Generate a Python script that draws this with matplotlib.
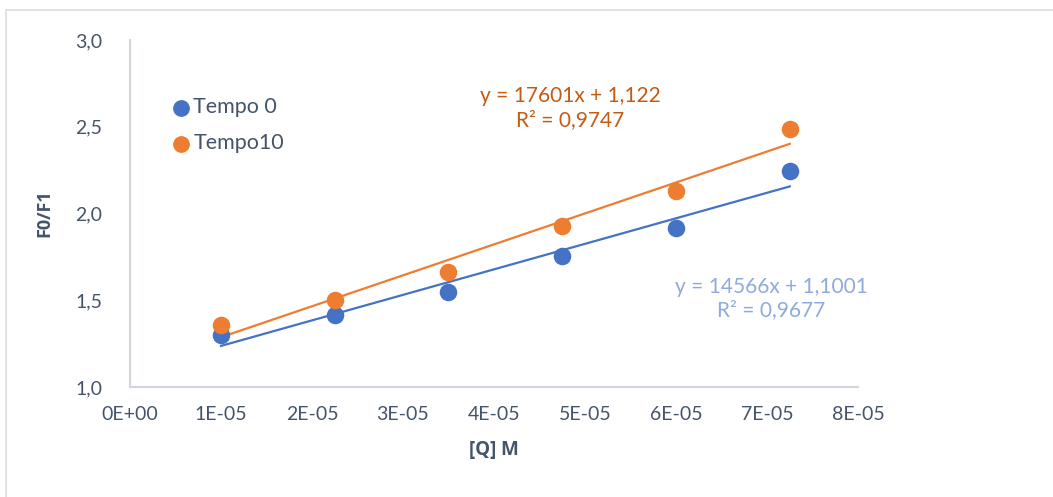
import matplotlib.pyplot as plt
import numpy as np
from matplotlib.patches import Rectangle

# concentrations [Q] (M)
conc = [1.0e-5, 2.25e-5, 3.5e-5, 4.75e-5, 6.0e-5, 7.25e-5]
tempo0 = [1.30, 1.415, 1.548, 1.755, 1.916, 2.245]
tempo10 = [1.357, 1.501, 1.663, 1.928, 2.13, 2.487]

eq0 = "y = 14566x + 1,1001\nR² = 0,9677"
eq10 = "y = 17601x + 1,122\nR² = 0,9747"

xticks = [0, 1e-5, 2e-5, 3e-5, 4e-5, 5e-5, 6e-5, 7e-5, 8e-5]
xticklabels = ["0E+00", "1E-05", "2E-05", "3E-05", "4E-05", "5E-05", "6E-05", "7E-05", "8E-05"]
yticks = [1.0, 1.5, 2.0, 2.5, 3.0]
yticklabels = ["1,0", "1,5", "2,0", "2,5", "3,0"]

blue = '#4472C4'
orange = '#ED7D31'
txt = '#44546A'
spine = '#D0D5DE'

plt.rcParams['font.family'] = ['Lato', 'DejaVu Sans']

fig = plt.figure(figsize=(10.53, 4.97), dpi=100)
# outer chart border
fig.patches.append(Rectangle((6 / 1053, -0.05), 1.2, (497 - 10) / 497 + 0.05,
                             transform=fig.transFigure, fill=False,
                             edgecolor='#D9DEE6', lw=1.2))

ax = fig.add_axes([130 / 1053, 110 / 497, 728 / 1053, 347 / 497])

# trendlines from least-squares fit
x = np.array(conc)
for ys, c in [(tempo0, blue), (tempo10, orange)]:
    k, b = np.polyfit(x, ys, 1)
    ax.plot([x[0], x[-1]], [k * x[0] + b, k * x[-1] + b], color=c, lw=1.6, zorder=2)

ax.scatter(conc, tempo0, s=135, color=blue, zorder=3, label='Tempo 0')
ax.scatter(conc, tempo10, s=135, color=orange, zorder=3, label='Tempo10')

ax.set_xlim(0, 8e-5)
ax.set_ylim(1.0, 3.0)
ax.set_xticks(xticks)
ax.set_xticklabels(xticklabels)
ax.set_yticks(yticks)
ax.set_yticklabels(yticklabels)
ax.tick_params(length=0, labelsize=14, colors=txt)
ax.tick_params(axis='y', pad=20)
ax.tick_params(axis='x', pad=14)

for s in ['top', 'right']:
    ax.spines[s].set_visible(False)
for s in ['left', 'bottom']:
    ax.spines[s].set_color(spine)
    ax.spines[s].set_linewidth(1.5)

ax.set_xlabel("[Q] M", fontsize=13.5, fontweight='bold', color=txt, labelpad=12,
              family=['Open Sans', 'DejaVu Sans'])
ax.set_ylabel("F0/F1", fontsize=13, fontweight='bold', color=txt, labelpad=16,
              family=['Open Sans', 'DejaVu Sans'])

ax.text(4.84e-5, 2.61, eq10, ha='center', va='center', fontsize=15,
        color='#C55A11', linespacing=1.25)
ax.text(7.05e-5, 1.51, eq0, ha='center', va='center', fontsize=15,
        color='#8FAADC', linespacing=1.25)

ax.legend(loc='upper left', bbox_to_anchor=(0.028, 0.86), frameon=False,
          fontsize=15.5, labelcolor=txt, handletextpad=-0.4, labelspacing=0.75,
          markerscale=0.95, borderaxespad=0)

fig.savefig('out.png', dpi=100)
